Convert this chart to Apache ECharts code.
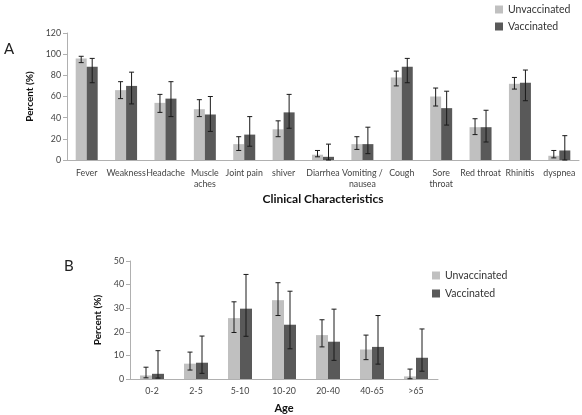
<!DOCTYPE html>
<html><head><meta charset="utf-8">
<script src="https://cdn.jsdelivr.net/npm/echarts@6/dist/echarts.min.js"></script>
<style>html,body{margin:0;padding:0;background:#fff}#c{width:582px;height:415px}</style>
</head><body><div id="c"></div>
<script>
var symptoms = ['Fever','Weakness','Headache','Muscle\naches','Joint pain','shiver','Diarrhea','Vomiting /\nnausea','Cough','Sore\nthroat','Red throat','Rhinitis','dyspnea'];
var symUnvac = [96, 66, 54, 48, 15, 29, 5, 15, 78, 60, 31, 72, 4];
var symUnvacLow = [92, 58, 45, 41, 9, 22, 3, 10, 70, 51, 24, 67, 2];
var symUnvacHigh = [98, 74, 62, 57, 22, 37, 9, 22, 84, 68, 39, 78, 9];
var symVac = [88, 70, 58, 43, 24, 45, 3, 15, 88, 49, 31, 73, 9];
var symVacLow = [73, 53, 41, 27, 13, 30, 0, 6, 73, 33, 17, 56, 0];
var symVacHigh = [96, 83, 74, 60, 41, 62, 15, 31, 96, 65, 47, 85, 23];

var ages = ['0-2','2-5','5-10','10-20','20-40','40-65','>65'];
var ageUnvac = [1.5, 6.5, 25.8, 33.4, 18.6, 12.5, 1.1];
var ageUnvacLow = [0.5, 3.8, 19.7, 26.9, 13.6, 8.2, 0.1];
var ageUnvacHigh = [5, 11.4, 32.7, 40.8, 25.1, 18.6, 4.2];
var ageVac = [2.2, 6.9, 29.8, 23, 15.8, 13.6, 9];
var ageVacLow = [0.4, 2.4, 18.1, 12.8, 7.9, 6.3, 3.3];
var ageVacHigh = [12, 18.2, 44.3, 37.2, 29.6, 26.9, 21.2];

var FONT = 'Lato';
var C_UN = '#c0c0c0', C_VA = '#595959', C_ERR = '#1a1a1a';

function errData(low, high){ return low.map(function(l,i){ return [i, l, high[i]]; }); }
function errSeries(xi, yi, low, high, offset){
  return {
    type:'custom', xAxisIndex:xi, yAxisIndex:yi, z:10, silent:true,
    data: errData(low, high),
    renderItem: function(params, api){
      var i = api.value(0);
      var p1 = api.coord([i, api.value(1)]);
      var p2 = api.coord([i, api.value(2)]);
      var x = p1[0] + offset, cw = 2.5;
      var st = {stroke:C_ERR, lineWidth:1};
      return {type:'group', children:[
        {type:'line', shape:{x1:x, y1:p1[1], x2:x, y2:p2[1]}, style:st},
        {type:'line', shape:{x1:x-cw, y1:p1[1], x2:x+cw, y2:p1[1]}, style:st},
        {type:'line', shape:{x1:x-cw, y1:p2[1], x2:x+cw, y2:p2[1]}, style:st}
      ]};
    }
  };
}
var axisLabelStyle = {color:'#444', fontFamily:FONT, fontSize:8.8};
var axisLineStyle = {lineStyle:{color:'#b0b0b0'}};

var chart = echarts.init(document.getElementById('c'), null, {renderer:'canvas'});
chart.setOption({
  animation:false,
  textStyle:{fontFamily:FONT},
  graphic:[
    {type:'text', left:4, top:42, style:{text:'A', fontSize:15, fontFamily:FONT, fill:'#222'}},
    {type:'text', left:64, top:259, style:{text:'B', fontSize:15, fontFamily:FONT, fill:'#222'}}
  ],
  legend:[
    {orient:'vertical', left:490, top:-1, itemWidth:8, itemHeight:8, itemGap:6, icon:'rect',
     textStyle:{fontSize:10.5, color:'#333', fontFamily:FONT}, data:['Unvaccinated','Vaccinated']},
    {orient:'vertical', left:427, top:265, itemWidth:8, itemHeight:8, itemGap:7, icon:'rect',
     textStyle:{fontSize:10.5, color:'#333', fontFamily:FONT}, data:['Unvaccinated','Vaccinated']}
  ],
  grid:[
    {left:67, width:512, top:33, height:127},
    {left:130, width:308, top:261, height:123}
  ],
  xAxis:[
    {type:'category', gridIndex:0, data:symptoms, axisLine:axisLineStyle,
     axisTick:{lineStyle:{color:'#b0b0b0'}, length:4}, axisLabel:Object.assign({interval:0, margin:8, lineHeight:11}, axisLabelStyle),
     name:'Clinical Characteristics', nameLocation:'middle', nameGap:33,
     nameTextStyle:{fontWeight:'bold', fontSize:12, color:'#111', fontFamily:FONT}},
    {type:'category', gridIndex:1, data:ages, axisLine:axisLineStyle,
     axisTick:{lineStyle:{color:'#b0b0b0'}, length:4}, axisLabel:Object.assign({interval:0, margin:8}, axisLabelStyle),
     name:'Age', nameLocation:'middle', nameGap:24,
     nameTextStyle:{fontWeight:'bold', fontSize:11, color:'#111', fontFamily:FONT}}
  ],
  yAxis:[
    {type:'value', gridIndex:0, min:0, max:120, interval:20, splitLine:{show:false},
     axisLine:{show:true, lineStyle:{color:'#b0b0b0'}}, axisTick:{show:true, length:4, lineStyle:{color:'#b0b0b0'}},
     axisLabel:Object.assign({margin:6}, axisLabelStyle),
     name:'Percent (%)', nameLocation:'middle', nameGap:26,
     nameTextStyle:{fontWeight:'bold', fontSize:10, color:'#111', fontFamily:FONT}},
    {type:'value', gridIndex:1, min:0, max:50, interval:10, splitLine:{show:false},
     axisLine:{show:true, lineStyle:{color:'#b0b0b0'}}, axisTick:{show:true, length:4, lineStyle:{color:'#b0b0b0'}},
     axisLabel:Object.assign({margin:6}, axisLabelStyle),
     name:'Percent (%)', nameLocation:'middle', nameGap:26,
     nameTextStyle:{fontWeight:'bold', fontSize:10, color:'#111', fontFamily:FONT}}
  ],
  series:[
    {name:'Unvaccinated', type:'bar', xAxisIndex:0, yAxisIndex:0, data:symUnvac, barWidth:11, barGap:'0%', itemStyle:{color:C_UN}},
    {name:'Vaccinated', type:'bar', xAxisIndex:0, yAxisIndex:0, data:symVac, barWidth:11, barGap:'0%', itemStyle:{color:C_VA}},
    errSeries(0,0,symUnvacLow,symUnvacHigh,-5.5),
    errSeries(0,0,symVacLow,symVacHigh,5.5),
    {name:'Unvaccinated', type:'bar', xAxisIndex:1, yAxisIndex:1, data:ageUnvac, barWidth:12, barGap:'0%', itemStyle:{color:C_UN}},
    {name:'Vaccinated', type:'bar', xAxisIndex:1, yAxisIndex:1, data:ageVac, barWidth:12, barGap:'0%', itemStyle:{color:C_VA}},
    errSeries(1,1,ageUnvacLow,ageUnvacHigh,-6),
    errSeries(1,1,ageVacLow,ageVacHigh,6)
  ]
});
</script></body></html>
